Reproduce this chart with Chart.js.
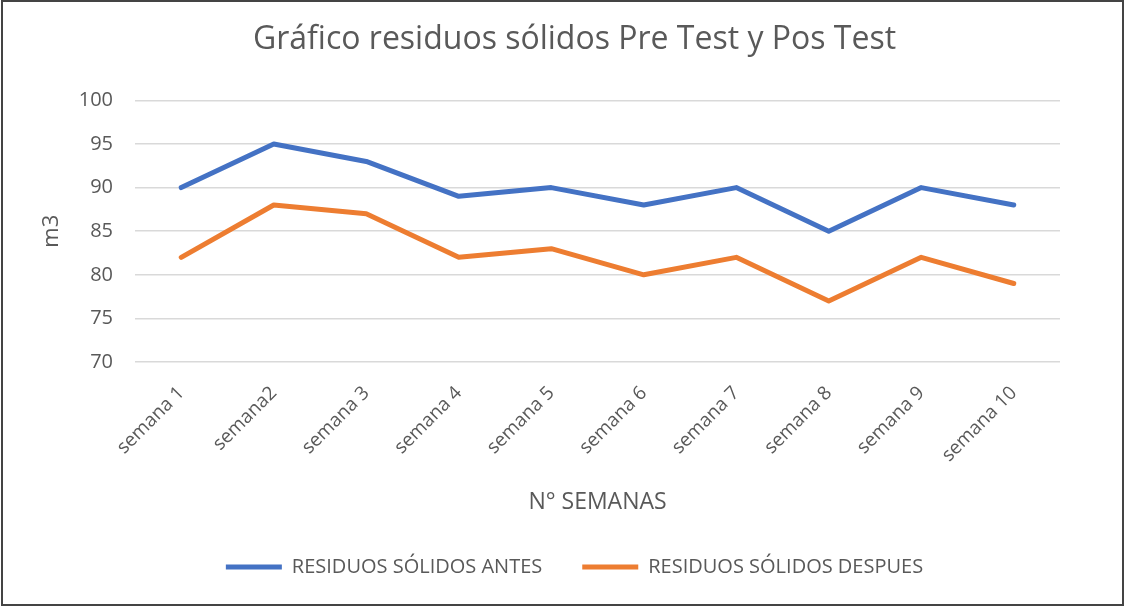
<!DOCTYPE html>
<html>
<head>
<meta charset="utf-8">
<script src="https://cdn.jsdelivr.net/npm/chart.js@4.4.1/dist/chart.umd.min.js"></script>
<style>
  html, body { margin: 0; padding: 0; background: #fff; }
  #wrap { width: 1125px; height: 607px; position: relative; }
</style>
</head>
<body>
<div id="wrap"><canvas id="chart-canvas" width="1125" height="607"></canvas></div>
<script>
// datos
const semanas = ['semana 1', 'semana2', 'semana 3', 'semana 4', 'semana 5', 'semana 6', 'semana 7', 'semana 8', 'semana 9', 'semana 10'];
const residuosAntes = [90, 95, 93, 89, 90, 88, 90, 85, 90, 88];
const residuosDespues = [82, 88, 87, 82, 83, 80, 82, 77, 82, 79];
const yTicks = [70, 75, 80, 85, 90, 95, 100];

const FONT = '"Open Sans", "Noto Sans", sans-serif';
const GRIS = '#595959';

// marco exterior como en la imagen original
const marco = {
    id: 'marco',
    afterDraw(chart) {
        const ctx = chart.ctx;
        ctx.save();
        ctx.strokeStyle = '#444';
        ctx.lineWidth = 2;
        ctx.strokeRect(2, 1, 1121, 604);
        ctx.restore();
    }
};

const ctx = document.getElementById('chart-canvas').getContext('2d');

const myChart = new Chart(ctx, {
    type: 'line',
    data: {
        labels: semanas,
        datasets: [{
            label: 'RESIDUOS SÓLIDOS ANTES',
            data: residuosAntes,
            borderColor: '#4472C4',
            backgroundColor: '#4472C4',
            borderWidth: 5,
            borderCapStyle: 'round',
            borderJoinStyle: 'round',
            pointRadius: 0,
            tension: 0
        }, {
            label: 'RESIDUOS SÓLIDOS DESPUES',
            data: residuosDespues,
            borderColor: '#ED7D31',
            backgroundColor: '#ED7D31',
            borderWidth: 5,
            borderCapStyle: 'round',
            borderJoinStyle: 'round',
            pointRadius: 0,
            tension: 0
        }]
    },
    options: {
        responsive: false,
        animation: false,
        layout: { padding: { left: 24, right: 0, top: 0, bottom: 20 } },
        plugins: {
            title: {
                display: true,
                text: 'Gráfico residuos sólidos Pre Test y Pos Test',
                color: GRIS,
                font: { family: FONT, size: 32, weight: 'normal' },
                padding: { top: 21, bottom: 41 }
            },
            legend: {
                position: 'bottom',
                labels: {
                    color: GRIS,
                    font: { family: FONT, size: 20 },
                    usePointStyle: true,
                    pointStyle: 'line',
                    pointStyleWidth: 56,
                    boxHeight: 18,
                    padding: 40
                }
            },
            tooltip: { enabled: false }
        },
        scales: {
            x: {
                offset: true,
                grid: { display: false },
                border: { display: false },
                ticks: {
                    color: GRIS,
                    font: { family: FONT, size: 19 },
                    minRotation: 45,
                    maxRotation: 45,
                    autoSkip: false,
                    padding: 12
                },
                title: {
                    display: true,
                    text: 'N° SEMANAS',
                    color: GRIS,
                    font: { family: FONT, size: 23 },
                    padding: { top: 0, bottom: 1 }
                },
                afterFit: (scale) => { scale.height = 155; }
            },
            y: {
                min: 70,
                max: 100,
                afterBuildTicks: (scale) => { scale.ticks = yTicks.map(v => ({ value: v })); },
                grid: { color: '#D9D9D9', lineWidth: 1.5, drawTicks: false },
                border: { display: false },
                ticks: {
                    color: GRIS,
                    font: { family: FONT, size: 20 },
                    padding: 22
                },
                title: {
                    display: true,
                    text: 'm3',
                    color: GRIS,
                    font: { family: FONT, size: 22 },
                    padding: { top: 15, bottom: 0 }
                },
                afterFit: (scale) => { scale.width = 111; }
            },
            // eje vacío a la derecha para dejar el margen del área de trazado
            margen: {
                type: 'linear',
                position: 'right',
                grid: { display: false },
                border: { display: false },
                ticks: { display: false },
                afterFit: (scale) => { scale.width = 65; }
            }
        }
    },
    plugins: [marco]
});
</script>
</body>
</html>
